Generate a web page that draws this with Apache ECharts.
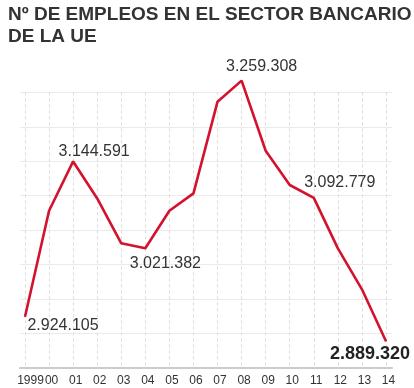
<!DOCTYPE html>
<html>
<head>
<meta charset="utf-8">
<script src="https://cdn.jsdelivr.net/npm/echarts@6/dist/echarts.min.js"></script>
<style>html,body{margin:0;padding:0;background:#fff}#c{width:414px;height:388px}</style>
</head>
<body>
<div id="c"></div>
<script>
var years = ['1999','00','01','02','03','04','05','06','07','08','09','10','11','12','13','14'];
var empleos = [2924105, 3074600, 3144591, 3092000, 3028300, 3021382, 3074600, 3099300, 3229400, 3259308, 3159800, 3111100, 3092779, 3021200, 2963000, 2889320];
var labeledIdx = [0, 2, 5, 9, 12, 15];
var titleText = 'Nº DE EMPLEOS EN EL SECTOR BANCARIO\nDE LA UE';

var FONT = '"Liberation Sans", Arial, sans-serif';
function fmt(v) { return String(v).replace(/\B(?=(\d{3})+(?!\d))/g, '.'); }

var labelOffsets = {0: [38, 9], 2: [21, -10], 5: [20, 15], 9: [20, -14], 12: [26, -15], 15: [-16, 13]};
var seriesData = empleos.map(function (v, i) {
  var item = { value: v };
  if (labeledIdx.indexOf(i) >= 0) {
    var last = i === empleos.length - 1;
    item.label = {
      show: true,
      position: 'inside',
      offset: labelOffsets[i],
      formatter: fmt(v),
      fontFamily: FONT,
      fontSize: last ? 18 : 16,
      fontWeight: last ? 'bold' : 'normal',
      color: last ? '#222' : '#333'
    };
  }
  return item;
});

var chart = echarts.init(document.getElementById('c'), null, { renderer: 'canvas' });
chart.setOption({
  animation: false,
  backgroundColor: '#fff',
  title: {
    text: titleText,
    left: 8, top: 4, padding: 0,
    textStyle: { fontFamily: FONT, fontSize: 19, fontWeight: 'bold', color: '#333', lineHeight: 22 }
  },
  grid: [
    { left: 20, right: 22, top: 92.4, bottom: 20.3 },
    { left: 25, right: 28, top: 92.4, bottom: 20.3 }
  ],
  xAxis: [
    { gridIndex: 0, type: 'value', min: 0, max: 1, show: true,
      axisLine: { show: true, lineStyle: { color: '#cccccc', width: 2 } },
      axisTick: { show: false }, axisLabel: { show: false }, splitLine: { show: false } },
    { gridIndex: 1, type: 'category', data: years, boundaryGap: false,
      axisLine: { show: false }, axisTick: { show: false },
      axisLabel: { interval: 0, margin: 7, hideOverlap: false,
        formatter: function (v, i) { return i === 0 ? '{f|' + v + '}' : '{n|' + v + '}'; },
        rich: {
          f: { fontFamily: FONT, fontSize: 12, color: '#333', padding: [0, 0, 0, 11] },
          n: { fontFamily: FONT, fontSize: 12, color: '#333', padding: [0, 0, 0, 5] }
        } },
      splitLine: { show: true, interval: 0, lineStyle: { color: '#dcdcdc', type: [3, 3], width: 1 } } }
  ],
  yAxis: [
    { gridIndex: 0, type: 'value', min: 0, max: 8, interval: 1,
      axisLine: { show: false }, axisTick: { show: false }, axisLabel: { show: false },
      splitLine: { show: true, lineStyle: { color: '#ebebeb', width: 1 } } },
    { gridIndex: 1, type: 'value', min: 2851700, max: 3242600,
      axisLine: { show: false }, axisTick: { show: false }, axisLabel: { show: false },
      splitLine: { show: false } }
  ],
  series: [{
    type: 'line',
    xAxisIndex: 1, yAxisIndex: 1,
    data: seriesData,
    clip: false,
    symbol: 'circle', symbolSize: 1, showSymbol: true,
    itemStyle: { color: '#d3122e' },
    lineStyle: { color: '#d3122e', width: 2.6 },
    label: { show: false },
    z: 5
  }]
});
</script>
</body>
</html>
